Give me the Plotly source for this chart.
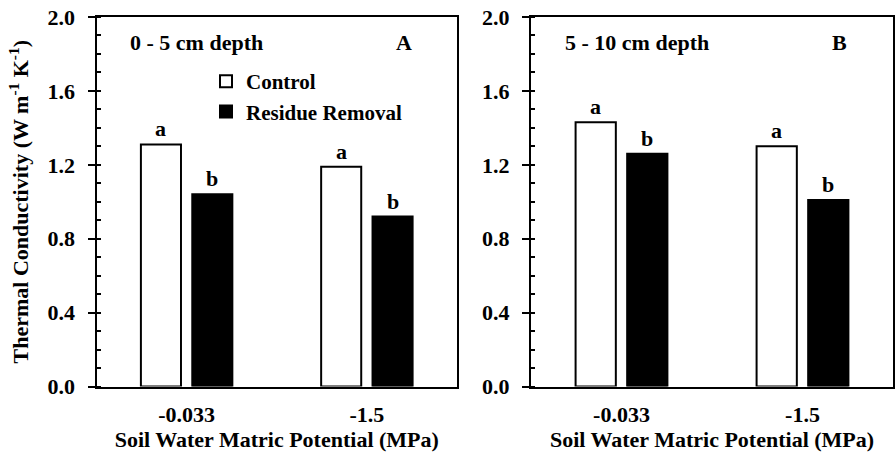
import plotly.graph_objects as go

categories = ["-0.033", "-1.5"]
series_names = ["Control", "Residue Removal"]
a_control = [1.31, 1.19]
a_residue = [1.04, 0.92]
b_control = [1.43, 1.30]
b_residue = [1.26, 1.01]
a_letters_control = ["a", "a"]
a_letters_residue = ["b", "b"]
b_letters_control = ["a", "a"]
b_letters_residue = ["b", "b"]
y_ticks = [0.0, 0.4, 0.8, 1.2, 1.6, 2.0]
panel_titles = ["0 - 5 cm depth", "5 - 10 cm depth"]
panel_tags = ["A", "B"]
x_title = "Soil Water Matric Potential (MPa)"
y_title = "Thermal Conductivity (W m<sup>-1</sup> K<sup>-1</sup>)"

FONT = "Liberation Serif"
FS = 22
W, H = 895, 458
BARGAP = 0.43
GROUPGAP = 0.22
OFF = (1 - BARGAP) / 4  # centre offset of each bar in category units


def bold_font(size=FS):
    return dict(family=FONT, size=size, color="black", weight="bold")


fig = go.Figure()

panels = [
    ("x", "y", a_control, a_residue, a_letters_control, a_letters_residue, True),
    ("x2", "y2", b_control, b_residue, b_letters_control, b_letters_residue, False),
]
for xa, ya, ctrl, res, lc, lr, show in panels:
    fig.add_trace(go.Bar(
        x=categories, y=ctrl, name=series_names[0], xaxis=xa, yaxis=ya,
        marker=dict(color="white", line=dict(color="black", width=2)),
        showlegend=show, legendgroup="c", offsetgroup="c"))
    fig.add_trace(go.Bar(
        x=categories, y=res, name=series_names[1], xaxis=xa, yaxis=ya,
        marker=dict(color="black", line=dict(color="black", width=2)),
        showlegend=show, legendgroup="r", offsetgroup="r"))

axis_common = dict(
    showline=True, linecolor="black", linewidth=2, mirror=True,
    showgrid=False, zeroline=False,
)
yaxis_common = dict(
    axis_common, range=[0, 2.0], tickvals=y_ticks, tickformat=".1f",
    ticks="outside", ticklen=7, tickwidth=2, tickcolor="black",
    minor=dict(dtick=0.1, ticks="inside", ticklen=4, tickwidth=1.5, tickcolor="black"),
    tickfont=bold_font(),
    ticklabelstandoff=8, automargin=False,
)
xaxis_common = dict(
    axis_common, type="category", ticks="", range=[-0.5, 1.5],
    tickfont=bold_font(),
    ticklabelstandoff=7, automargin=False,
    title=dict(text=x_title, font=bold_font(), standoff=5),
)

yd = [1 - 386.5 / H, 1 - 17 / H]
fig.update_layout(
    width=W, height=H,
    margin=dict(l=0, r=0, t=0, b=0),
    paper_bgcolor="white", plot_bgcolor="white",
    barmode="group", bargap=BARGAP, bargroupgap=GROUPGAP,
    font=dict(family=FONT, color="black", weight="bold"),
    xaxis=dict(xaxis_common, domain=[96.5 / W, 457 / W], anchor="y"),
    xaxis2=dict(xaxis_common, domain=[531 / W, 893 / W], anchor="y2"),
    yaxis=dict(yaxis_common, domain=yd, anchor="x",
               title=dict(text=y_title, font=bold_font(), standoff=13)),
    yaxis2=dict(yaxis_common, domain=yd, anchor="x2"),
    legend=dict(x=206 / W, y=1 - 61 / H, xanchor="left", yanchor="top",
                bgcolor="rgba(0,0,0,0)", itemwidth=30, tracegroupgap=0,
                font=bold_font(21)),
    showlegend=True,
)

annots = []
for i, (xa, ya, ctrl, res, lc, lr, show) in enumerate(panels):
    xd = xa + " domain"
    yd_ref = ya + " domain"
    annots.append(dict(text=panel_titles[i], xref=xd, yref=yd_ref, x=0.088, y=0.93,
                       xanchor="left", yanchor="middle", showarrow=False,
                       font=bold_font()))
    annots.append(dict(text=panel_tags[i], xref=xd, yref=yd_ref, x=0.853, y=0.93,
                       xanchor="center", yanchor="middle", showarrow=False,
                       font=bold_font()))
    for j, c in enumerate(categories):
        annots.append(dict(text=lc[j], xref=xa, yref=ya, x=j - OFF, y=ctrl[j],
                           xanchor="center", yanchor="bottom", yshift=1, showarrow=False,
                           font=bold_font()))
        annots.append(dict(text=lr[j], xref=xa, yref=ya, x=j + OFF, y=res[j],
                           xanchor="center", yanchor="bottom", yshift=1, showarrow=False,
                           font=bold_font()))
fig.update_layout(annotations=annots)

fig.write_html(
    "out.html",
    config={"displayModeBar": False},
    post_script="document.body.style.margin='0';document.body.style.overflow='hidden';",
)
